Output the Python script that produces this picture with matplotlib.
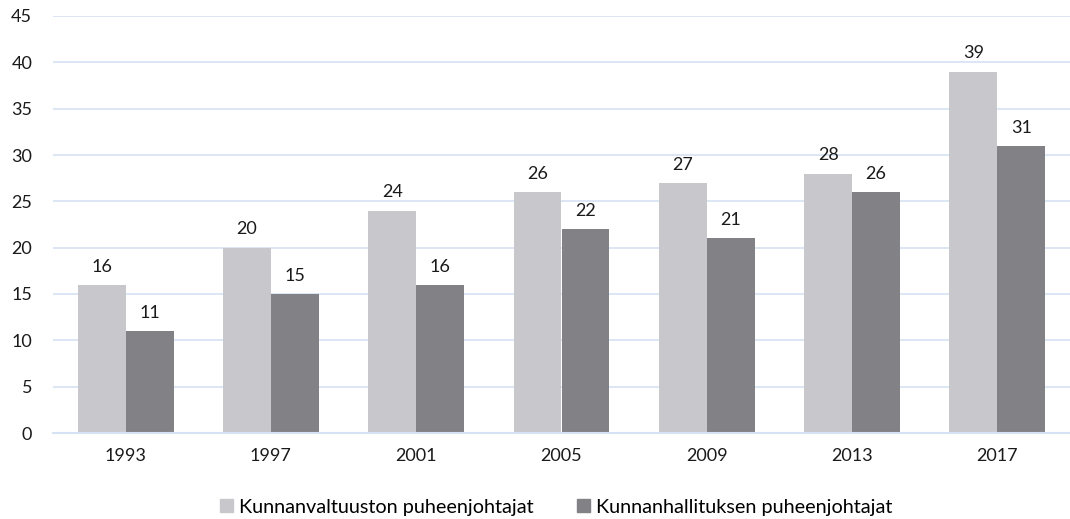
import numpy as np
import matplotlib.pyplot as plt
from matplotlib.patches import Patch

plt.rcParams['font.family'] = ['Lato', 'DejaVu Sans']

years = ["1993", "1997", "2001", "2005", "2009", "2013", "2017"]
valtuusto = [16, 20, 24, 26, 27, 28, 39]
hallitus = [11, 15, 16, 22, 21, 26, 31]
names = ["Kunnanvaltuuston puheenjohtajat", "Kunnanhallituksen puheenjohtajat"]
colors = ["#c8c8cc", "#828186"]
grid_col = "#d6e2f3"

fig = plt.figure(figsize=(10.7, 5.19), dpi=100)
ax = fig.add_axes([53 / 1070, 1 - 433 / 519, 1017 / 1070, 417 / 519])

x = np.arange(len(years))
w = 0.33
b1 = ax.bar(x - w / 2, valtuusto, w, color=colors[0], zorder=2)
b2 = ax.bar(x + w / 2, hallitus, w, color=colors[1], zorder=2)
for bars in (b1, b2):
    for r in bars:
        ax.text(r.get_x() + r.get_width() / 2, r.get_height() + 1.1, f"{int(r.get_height())}",
                ha="center", va="bottom", fontsize=13, color="#1a1a1a")

ax.set_xlim(-0.5, len(years) - 0.5)
ax.set_ylim(0, 45)
ax.set_yticks(range(0, 46, 5))
ax.set_xticks(x)
ax.set_xticklabels(years)
ax.yaxis.grid(True, color=grid_col, linewidth=1.2, zorder=0)
ax.set_axisbelow(True)
for s in ("top", "right", "left"):
    ax.spines[s].set_visible(False)
ax.spines["bottom"].set_color(grid_col)
ax.spines["bottom"].set_linewidth(1.5)
ax.tick_params(axis="both", length=0, labelsize=13, colors="#1a1a1a")
ax.tick_params(axis="x", pad=11)
ax.tick_params(axis="y", pad=15)

handles = [Patch(color=c, label=n) for c, n in zip(colors, names)]
fig.legend(handles=handles, loc="center", bbox_to_anchor=(0.52, 1 - 507 / 519), ncol=2,
           frameon=False, fontsize=14.3, handlelength=0.65, handleheight=0.65,
           handletextpad=0.3, columnspacing=2.2)

fig.savefig("out.png", dpi=100)
